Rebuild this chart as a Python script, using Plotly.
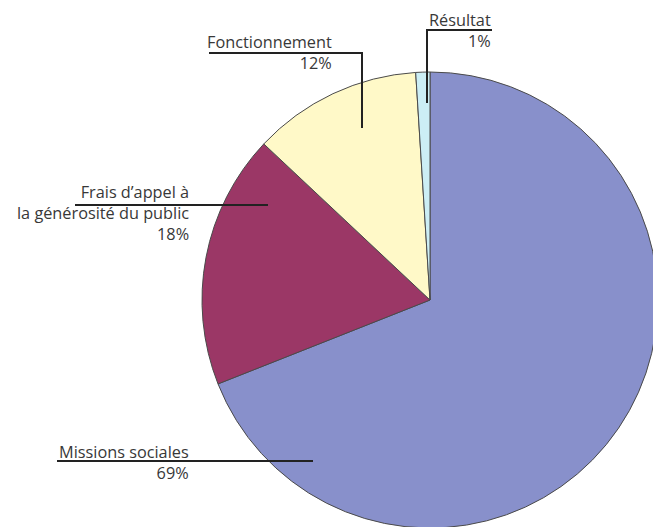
import plotly.graph_objects as go

labels = ["Missions sociales", "Frais d'appel à la générosité du public", "Fonctionnement", "Résultat"]
values = [69, 18, 12, 1]
colors = ["#8890CB", "#9B3766", "#FFF9C8", "#CCEEF5"]
pct_text = ["69%", "18%", "12%", "1%"]
label_lines = [
    ["Missions sociales"],
    ["Frais d\u2019appel à", "la générosité du public"],
    ["Fonctionnement"],
    ["Résultat"],
]

# figure is slightly larger than the 653x527 view so the pie can be cropped at right/bottom like the reference
W, H = 670, 540

def px(x):
    return x / W

def py(y):
    return 1 - y / H

CX, CY, R = 430, 300, 228

fig = go.Figure()
fig.add_trace(go.Pie(
    labels=labels, values=values, sort=False, direction="clockwise", rotation=0,
    marker=dict(colors=colors, line=dict(color="#4a4a4a", width=1)),
    textinfo="none", hoverinfo="label+percent", showlegend=False,
    domain=dict(x=[px(CX - R), px(CX + R)], y=[py(CY + R), py(CY - R)]),
))

font = dict(family="Open Sans", size=16.3, color="#383838")

# label block anchors: (right x, middle y) per slice
anchors = [(191, 462), (191, 213), (334, 53), (493, 30)]
annotations = []
for lines, pct, (x, y) in zip(label_lines, pct_text, anchors):
    annotations.append(dict(text="<br>".join(lines + [pct]), x=px(x), y=py(y),
                            xref="paper", yref="paper", align="right",
                            xanchor="right", yanchor="middle", showarrow=False, font=font))

# leader lines (polylines in pixel coords)
leaders = [
    [(209, 53), (362, 53), (362, 128)],
    [(492, 30), (427, 30), (427, 103)],
    [(75, 205), (268, 205)],
    [(57, 461), (313, 461)],
]
shapes = []
for pts in leaders:
    path = "M " + " L ".join(f"{px(x)},{py(y)}" for x, y in pts)
    shapes.append(dict(type="path", path=path, xref="paper", yref="paper",
                       line=dict(color="#222222", width=2)))

fig.update_layout(
    width=W, height=H, margin=dict(l=0, r=0, t=0, b=0),
    paper_bgcolor="white", plot_bgcolor="white",
    annotations=annotations, shapes=shapes,
)
fig.write_html(
    "out.html",
    post_script="document.documentElement.style.overflow='hidden';document.body.style.overflow='hidden';document.body.style.margin='0';",
)
